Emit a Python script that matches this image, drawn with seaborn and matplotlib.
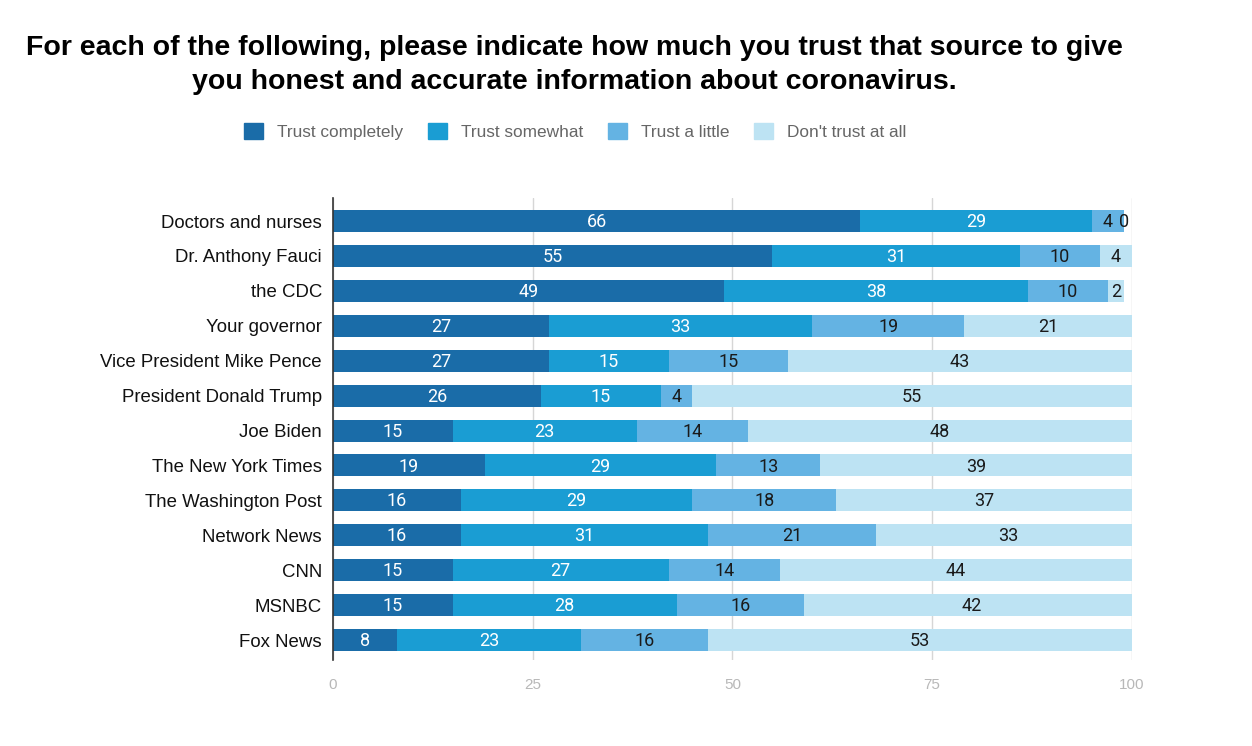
import numpy as np
import pandas as pd
import matplotlib
matplotlib.use('Agg')
import matplotlib.pyplot as plt
import seaborn as sns
from matplotlib.patches import Patch

# 数据
sources = ['Doctors and nurses', 'Dr. Anthony Fauci', 'the CDC', 'Your governor',
           'Vice President Mike Pence', 'President Donald Trump', 'Joe Biden',
           'The New York Times', 'The Washington Post', 'Network News', 'CNN',
           'MSNBC', 'Fox News']
trust_completely = [66, 55, 49, 27, 27, 26, 15, 19, 16, 16, 15, 15, 8]
trust_somewhat = [29, 31, 38, 33, 15, 15, 23, 29, 29, 31, 27, 28, 23]
trust_little = [4, 10, 10, 19, 15, 4, 14, 13, 18, 21, 14, 16, 16]
trust_none = [0, 4, 2, 21, 43, 55, 48, 39, 37, 33, 44, 42, 53]
series_names = ['Trust completely', 'Trust somewhat', 'Trust a little', "Don't trust at all"]

colors = ['#1a6ca8', '#1a9dd3', '#64b3e3', '#bde3f3']
text_colors = ['white', 'white', '#1a1a1a', '#1a1a1a']

df = pd.DataFrame({'source': sources,
                   series_names[0]: trust_completely,
                   series_names[1]: trust_somewhat,
                   series_names[2]: trust_little,
                   series_names[3]: trust_none})
cum = df[series_names].cumsum(axis=1)

sns.set_style('white')
plt.rcParams['font.family'] = ['Liberation Sans', 'DejaVu Sans']

fig = plt.figure(figsize=(12.52, 7.46), dpi=100)
ax = fig.add_axes([0.266, 0.1153, 0.638, 0.6193])

# 从后往前叠加绘制
for i in range(3, -1, -1):
    sns.barplot(x=cum[series_names[i]], y=df['source'], color=colors[i],
                width=0.63, linewidth=0, saturation=1, ax=ax, orient='h', zorder=2)

# 数值标签
for i, name in enumerate(series_names):
    starts = cum[name] - df[name]
    for row, (s, v) in enumerate(zip(starts, df[name])):
        ax.text(s + v / 2, row + 0.03, str(v), ha='center', va='center', fontsize=13,
                color=text_colors[i], family=['Roboto', 'DejaVu Sans'], zorder=5)

ax.set_xlim(0, 100)
ax.set_ylim(12.57, -0.66)
ax.set_xticks([0, 25, 50, 75, 100])
ax.set_xlabel('')
ax.set_ylabel('')
ax.grid(axis='x', color='#d6d6d6', linewidth=1, zorder=0)
ax.set_axisbelow(True)
for side in ['top', 'right', 'bottom']:
    ax.spines[side].set_visible(False)
ax.spines['left'].set_color('#333333')
ax.spines['left'].set_linewidth(1.2)
ax.spines['left'].set_zorder(6)
ax.tick_params(axis='x', length=0, pad=13, labelsize=11, labelcolor='#b8b8b8')
ax.tick_params(axis='y', length=0, pad=8, labelsize=13.4, labelcolor='#111111')

fig.text(0.459, 0.913, 'For each of the following, please indicate how much you trust that source to give\n'
         'you honest and accurate information about coronavirus.',
         ha='center', va='center', fontsize=20.5, fontweight='bold', linespacing=1.36,
         color='black')

handles = [Patch(facecolor=c, edgecolor=c) for c in colors]
fig.legend(handles, series_names, loc='center', bbox_to_anchor=(0.4595, 0.824), ncol=4,
           frameon=False, fontsize=12.4, labelcolor='#666666', handlelength=1.1,
           handleheight=1.1, handletextpad=0.8, columnspacing=1.45)

plt.savefig('out.png', dpi=100)
plt.close()
